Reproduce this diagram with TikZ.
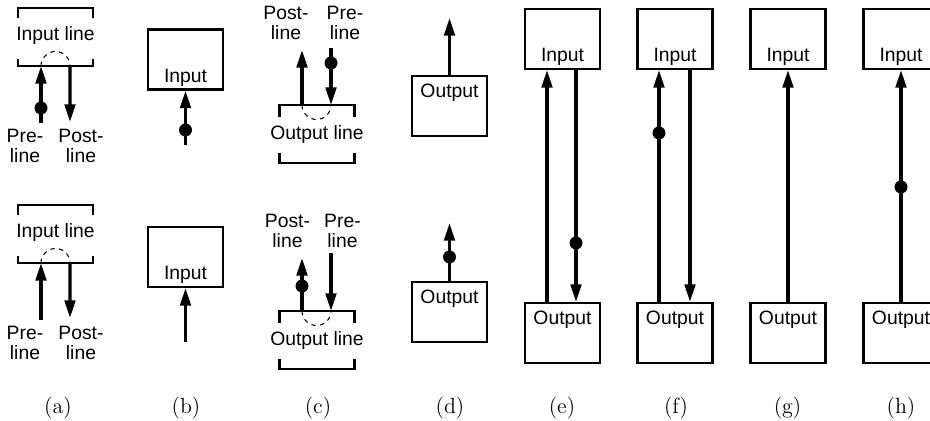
\documentclass[tikz,border=0pt]{standalone}
\usepackage{fontspec}
\newfontfamily\labelfont{Liberation Sans}
\usetikzlibrary{arrows.meta}
\usetikzlibrary{calc}

\begin{document}
\begin{tikzpicture}[x = 0.2mm, y = 0.2mm,
	box/.style = {rectangle, draw, line width = 1.2pt, minimum width = 1.5cm, minimum height = 1.2cm, inner sep = 0pt},
	inbox/.style = {box, text height = 30pt, text depth = 4.1pt},
	outbox/.style = {box, text height = 12.2pt, text depth = 21.9pt},
	dot/.style = {circle, fill, inner sep = 0pt, minimum size = 0.26cm},
	wire/.style = {line width = 1.8pt},
	bracket/.style = {line width = 1.2pt},
	halfcircle/.style = {line width = 0.6pt, dash pattern = on 2.5pt off 2.5pt},
	>={Triangle[length = 10pt, width = 6pt]}]

	\useasboundingbox (0, 0) rectangle (930, 421);

	\begin{scope}[every node/.append style = {font = \labelfont\fontsize{11}{11}\selectfont, align = center}]
	\node (a1) at (55.5, 385) {Input line};
	\node (a2) at (55.5, 188) {Input line};
	\node (c1) at (317, 286) {Output line};
	\node (c2) at (317, 80) {Output line};

	\node (a1pre) at (25, 275) {Pre-\\line};
	\node (a1post) at (81, 275) {Post-\\line};
	\node (a2pre) at (25, 78) {Pre-\\line};
	\node (a2post) at (81, 78) {Post-\\line};
	\node (c1post) at (286, 398) {Post-\\line};
	\node (c1pre) at (345, 398) {Pre-\\line};
	\node (c2post) at (287.5, 190) {Post-\\line};
	\node (c2pre) at (342.5, 190) {Pre-\\line};

	\node (b1) [inbox] at (185.5, 361.5) {Input};
	\node (b2) [inbox] at (185.5, 164) {Input};
	\node (d1) [outbox] at (449.5, 315) {Output};
	\node (d2) [outbox] at (449.5, 109) {Output};
	\node (ein) [inbox] at (562.5, 382) {Input};
	\node (eout) [outbox] at (562.5, 88) {Output};
	\node (fin) [inbox] at (675, 382) {Input};
	\node (fout) [outbox] at (675, 88) {Output};
	\node (gin) [inbox] at (788, 382) {Input};
	\node (gout) [outbox] at (788, 88) {Output};
	\node (hin) [inbox] at (901, 382) {Input};
	\node (hout) [outbox] at (901, 88) {Output};
	\end{scope}

	% brackets round the line names
	\draw [bracket] ($(a1) + (-37.5, 18)$) -- ($(a1) + (-37.5, 28)$) -- ($(a1) + (37.5, 28)$) -- ($(a1) + (37.5, 18)$);
	\draw [bracket] ($(a1) + (-37.5, -23)$) -- ($(a1) + (-37.5, -30)$) -- ($(a1) + (37.5, -30)$) -- ($(a1) + (37.5, -23)$);
	\draw [bracket] ($(a2) + (-37.5, 18)$) -- ($(a2) + (-37.5, 28)$) -- ($(a2) + (37.5, 28)$) -- ($(a2) + (37.5, 18)$);
	\draw [bracket] ($(a2) + (-37.5, -23)$) -- ($(a2) + (-37.5, -30)$) -- ($(a2) + (37.5, -30)$) -- ($(a2) + (37.5, -23)$);
	\draw [bracket] ($(c1) + (-37.5, 18)$) -- ($(c1) + (-37.5, 30)$) -- ($(c1) + (37.5, 30)$) -- ($(c1) + (37.5, 18)$);
	\draw [bracket] ($(c1) + (-37.5, -18)$) -- ($(c1) + (-37.5, -28)$) -- ($(c1) + (37.5, -28)$) -- ($(c1) + (37.5, -18)$);
	\draw [bracket] ($(c2) + (-37.5, 18)$) -- ($(c2) + (-37.5, 30)$) -- ($(c2) + (37.5, 30)$) -- ($(c2) + (37.5, 18)$);
	\draw [bracket] ($(c2) + (-37.5, -18)$) -- ($(c2) + (-37.5, -28)$) -- ($(c2) + (37.5, -28)$) -- ($(c2) + (37.5, -18)$);

	\draw [halfcircle] ($(a1) + (-14.5, -30)$) arc [start angle = 180, end angle = 0, radius = 14.5];
	\draw [halfcircle] ($(a2) + (-14.5, -30)$) arc [start angle = 180, end angle = 0, radius = 14.5];
	\draw [halfcircle] ($(c1) + (-15, 30)$) arc [start angle = 180, end angle = 360, radius = 14.5];
	\draw [halfcircle] ($(c2) + (-15, 30)$) arc [start angle = 180, end angle = 360, radius = 14.5];

	% free ends of the lines
	\coordinate (a1p) at (41, 298);
	\coordinate (a1q) at (70, 299);
	\coordinate (a2p) at (41, 101);
	\coordinate (a2q) at (70, 103);
	\coordinate (b1p) at (185.5, 276);
	\coordinate (b2p) at (185.5, 79);
	\coordinate (c1q) at (302, 371);
	\coordinate (c1p) at (331, 373);
	\coordinate (c2q) at (302, 163);
	\coordinate (c2p) at (331, 168);
	\coordinate (d1q) at (449.5, 403);
	\coordinate (d2q) at (449.5, 198);

	\begin{scope}[every path/.append style = {wire}]
	\draw [->] (a1p) -- ($(a1) + (-14.5, -30)$);
	\draw [->] ($(a1) + (14.5, -30)$) -- (a1q);
	\draw [->] (a2p) -- ($(a2) + (-14.5, -30)$);
	\draw [->] ($(a2) + (14.5, -30)$) -- (a2q);
	\draw [->] (b1p) -- (b1.south);
	\draw [->] (b2p) -- (b2.south);
	\draw [->] ($(c1) + (-15, 30)$) -- (c1q);
	\draw [->] (c1p) -- ($(c1) + (14, 30)$);
	\draw [->] ($(c2) + (-15, 30)$) -- (c2q);
	\draw [->] (c2p) -- ($(c2) + (14, 30)$);
	\draw [->] (d1.north) -- (d1q);
	\draw [->] (d2.north) -- (d2q);
	\draw [->] ($(eout.north) + (-15.5, 0)$) -- ($(ein.south) + (-15.5, 0)$);
	\draw [->] ($(ein.south) + (13.5, 0)$) -- ($(eout.north) + (13.5, 0)$);
	\draw [->] ($(fout.north) + (-16, 0)$) -- ($(fin.south) + (-16, 0)$);
	\draw [->] ($(fin.south) + (15, 0)$) -- ($(fout.north) + (15, 0)$);
	\draw [->] (gout.north) -- (gin.south);
	\draw [->] (hout.north) -- (hin.south);
	\end{scope}

	\node (a1d) [dot] at (41, 313) {};
	\node (b1d) [dot] at (185.5, 291) {};
	\node (c1d) [dot] at (331, 358) {};
	\node (c2d) [dot] at (302, 135) {};
	\node (d2d) [dot] at (449.5, 164) {};
	\node (ed) [dot] at (576, 178) {};
	\node (fd) [dot] at (659, 288) {};
	\node (hd) [dot] at (901, 234) {};

	\begin{scope}[every node/.append style = {font = \fontsize{12.5}{14}\selectfont}]
	\node (capa) at (58, 13) {(a)};
	\node (capb) at (186, 13) {(b)};
	\node (capc) at (318, 13) {(c)};
	\node (capd) at (450, 13) {(d)};
	\node (cape) at (562, 13) {(e)};
	\node (capf) at (676, 13) {(f)};
	\node (capg) at (787.5, 13) {(g)};
	\node (caph) at (901, 13) {(h)};
	\end{scope}

\end{tikzpicture}
\end{document}
